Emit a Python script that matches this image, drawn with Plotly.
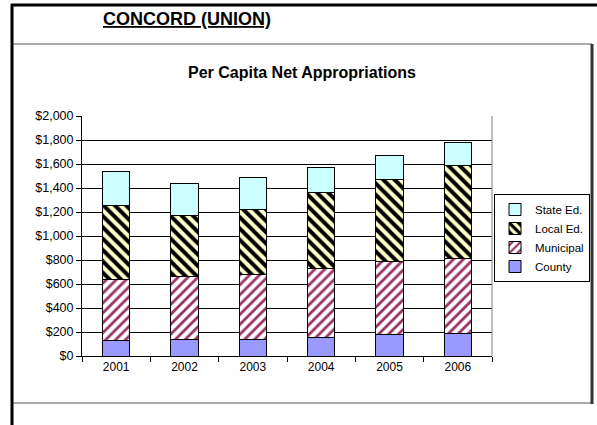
import plotly.graph_objects as go

years = ['2001', '2002', '2003', '2004', '2005', '2006']
county = [127, 136, 140, 156, 183, 189]
municipal = [514, 524, 540, 574, 602, 624]
local_ed = [616, 511, 538, 635, 686, 771]
state_ed = [281, 267, 267, 206, 197, 198]

W, H = 597, 425
L, R, T, B = 82, 105, 116, 69
PW, PH = W - L - R, H - T - B


def px(x):
    return (x - L) / PW


def py(y):
    return (H - B - y) / PH


fig = go.Figure()

fig.add_trace(go.Bar(x=years, y=county, name='County',
                     marker=dict(color='#9999FF', line=dict(color='black', width=1))))
fig.add_trace(go.Bar(x=years, y=municipal, name='Municipal',
                     marker=dict(color='white', line=dict(color='black', width=1),
                                 pattern=dict(shape='/', fgcolor='#993366', bgcolor='white',
                                              fgopacity=1, size=7, solidity=0.4))))
fig.add_trace(go.Bar(x=years, y=local_ed, name='Local Ed.',
                     marker=dict(color='#FFFFCC', line=dict(color='black', width=1),
                                 pattern=dict(shape='\\', fgcolor='black', bgcolor='#FFFFCC',
                                              fgopacity=1, size=8, solidity=0.5))))
fig.add_trace(go.Bar(x=years, y=state_ed, name='State Ed.',
                     marker=dict(color='#CCFFFF', line=dict(color='black', width=1))))

font = 'Liberation Sans, Arial, sans-serif'

shapes = [
    # outer page lines
    dict(type='line', x0=px(11), x1=px(597), y0=py(5), y1=py(5), line=dict(color='black', width=3)),
    dict(type='line', x0=px(12), x1=px(12), y0=py(4), y1=py(425), line=dict(color='black', width=3)),
    # chart box
    dict(type='rect', x0=px(12), x1=px(592), y0=py(44), y1=py(403), line=dict(color='#555555', width=1)),
    dict(type='line', x0=px(592), x1=px(592), y0=py(44), y1=py(404), line=dict(color='#333333', width=3)),
    # plot area right edge
    dict(type='line', x0=1, x1=1, y0=0, y1=1, line=dict(color='#808080', width=1)),
]
for s in shapes:
    s.setdefault('xref', 'paper')
    s.setdefault('yref', 'paper')
    s['layer'] = 'above' if s['type'] != 'rect' else 'below'

fig.update_layout(
    width=W, height=H,
    margin=dict(l=L, r=R, t=T, b=B, autoexpand=False),
    barmode='stack', bargap=0.6,
    paper_bgcolor='white', plot_bgcolor='white',
    font=dict(family=font, color='black', size=12),
    shapes=shapes,
    annotations=[
        dict(text='CONCORD (UNION)', x=px(187), y=py(19), xref='paper', yref='paper',
             showarrow=False, xanchor='center', yanchor='middle',
             font=dict(family=font, size=18, weight='bold', lineposition='under')),
        dict(text='<b>Per Capita Net Appropriations</b>', x=px(302), y=py(72), xref='paper', yref='paper',
             showarrow=False, xanchor='center', yanchor='middle',
             font=dict(family=font, size=16)),
    ],
    legend=dict(x=px(494), y=py(194), xanchor='left', yanchor='top',
                bordercolor='black', borderwidth=1, bgcolor='white',
                traceorder='reversed', itemwidth=30, font=dict(size=11.5)),
    yaxis=dict(range=[0, 2000], dtick=200, tickprefix='$', tickformat=',',
               showgrid=True, gridcolor='black', gridwidth=1,
               ticks='outside', ticklen=5, tickcolor='black',
               showline=True, linecolor='black', linewidth=1,
               zeroline=False, tickfont=dict(size=12.5)),
    xaxis=dict(tickson='boundaries', ticks='outside', ticklen=5, tickcolor='black',
               showline=True, linecolor='black', linewidth=1, showgrid=False,
               tickfont=dict(size=12)),
)

# page body has a default 8px margin; drop it so the figure sits at the corner
fig.write_html("out.html", config={'displayModeBar': False},
               post_script="document.body.style.margin='0';")
